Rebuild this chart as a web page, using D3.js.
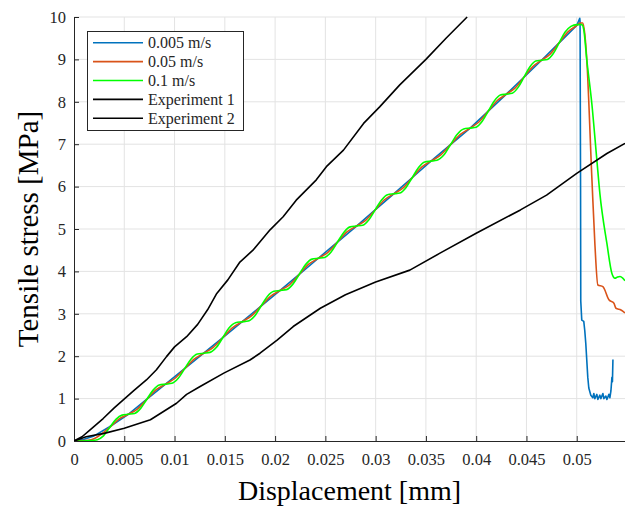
<!DOCTYPE html>
<html>
<head>
<meta charset="utf-8">
<script src="https://cdn.jsdelivr.net/npm/d3@7"></script>
<style>
  body { margin: 0; background: #fff; }
  svg text { font-family: "Liberation Serif", "Times New Roman", serif; fill: #262626; }
</style>
</head>
<body>
<div class="main"></div>
<script>
// series names (legend order) and colours
var seriesNames = ['0.005 m/s', '0.05 m/s', '0.1 m/s', 'Experiment 1', 'Experiment 2'];
var seriesColors = ['#0072BD', '#D95319', '#00FF00', '#000000', '#000000'];

// tick values and labels
var xTicks = [0, 0.005, 0.01, 0.015, 0.02, 0.025, 0.03, 0.035, 0.04, 0.045, 0.05];
var xTickLabels = ['0', '0.005', '0.01', '0.015', '0.02', '0.025', '0.03', '0.035', '0.04', '0.045', '0.05'];
var yTicks = [0, 1, 2, 3, 4, 5, 6, 7, 8, 9, 10];
var yTickLabels = ['0', '1', '2', '3', '4', '5', '6', '7', '8', '9', '10'];

// 0.005 m/s (displacement mm, stress MPa)
var blueX = [0, 0.001, 0.002, 0.0035, 0.0054, 0.00725, 0.0091, 0.0110, 0.0129, 0.0148, 0.0167, 0.0186, 0.0205, 0.0224,
    0.0243, 0.0262, 0.0281, 0.02995, 0.0318, 0.03365, 0.0355, 0.03745, 0.0394, 0.0412, 0.0430, 0.04475, 0.0465, 0.04825,
    0.0500, 0.0503,
    0.05033, 0.05038, 0.0504, 0.0505, 0.0507, 0.0508, 0.0509, 0.0511, 0.0512, 0.0514, 0.0516, 0.0517, 0.0518, 0.052,
    0.0521, 0.0523, 0.0524, 0.0526, 0.0527, 0.0529, 0.053, 0.0532, 0.0533, 0.0534, 0.0535, 0.05355, 0.0536];
var blueY = [0, 0.04, 0.12, 0.33, 0.63, 0.985, 1.34, 1.705, 2.07, 2.44, 2.81, 3.18, 3.55, 3.93,
    4.31, 4.69, 5.07, 5.45, 5.83, 6.215, 6.6, 6.99, 7.38, 7.78, 8.18, 8.58, 8.98, 9.39,
    9.8, 9.97,
    9.9, 6.0, 3.3, 2.85, 2.82, 2.6, 2.3, 1.5, 1.25, 1.08, 1.02, 1.12, 1.0, 1.1,
    0.98, 1.08, 1.0, 1.12, 1.0, 1.06, 0.98, 1.1, 1.02, 1.18, 1.5, 1.4, 1.92];

// 0.05 m/s
var orangeX = [0, 0.0008, 0.0017, 0.0026, 0.00355, 0.0045, 0.0054,
    0.00633, 0.00725, 0.00818, 0.0091, 0.01005, 0.0110, 0.01195, 0.0129, 0.01385, 0.0148, 0.01575, 0.0167,
    0.01765, 0.0186, 0.01955, 0.0205, 0.02145, 0.0224, 0.02335, 0.0243, 0.02525, 0.0262, 0.02715, 0.0281,
    0.02903, 0.02995, 0.03088, 0.0318, 0.03273, 0.03365, 0.03458, 0.0355, 0.03648, 0.03745, 0.03843, 0.0394,
    0.0403, 0.0412, 0.0421, 0.0430, 0.04388, 0.04475, 0.04563, 0.0465, 0.04738, 0.04825, 0.04913, 0.0500,
    0.0503, 0.0506, 0.0508, 0.051, 0.0515, 0.0518, 0.0521, 0.0526, 0.0532, 0.0537, 0.0539, 0.0544, 0.0548];
var orangeY = [0, 0.01, 0.03, 0.14, 0.32, 0.52, 0.63,
    0.76, 0.985, 1.21, 1.34, 1.48, 1.705, 1.93, 2.07, 2.21, 2.44, 2.67, 2.81,
    2.95, 3.18, 3.41, 3.55, 3.69, 3.93, 4.17, 4.31, 4.45, 4.69, 4.93, 5.07,
    5.21, 5.45, 5.69, 5.83, 5.97, 6.215, 6.46, 6.6, 6.75, 6.99, 7.23, 7.38,
    7.53, 7.78, 8.03, 8.18, 8.33, 8.58, 8.83, 8.98, 9.13, 9.39, 9.65, 9.8,
    9.86, 9.86, 9.6, 8.99, 6.23, 4.67, 3.68, 3.64, 3.33, 3.25, 3.13, 3.09, 3.02];

// 0.1 m/s
var greenX = [0, 0.0008, 0.0017, 0.00232, 0.00293, 0.00355, 0.00417, 0.00478, 0.0054,
    0.00602, 0.00663, 0.00725, 0.00787, 0.00848, 0.0091,
    0.00973, 0.01037, 0.0110, 0.01163, 0.01227, 0.0129,
    0.01353, 0.01417, 0.0148, 0.01543, 0.01607, 0.0167,
    0.01733, 0.01797, 0.0186, 0.01923, 0.01987, 0.0205,
    0.02113, 0.02177, 0.0224, 0.02303, 0.02367, 0.0243,
    0.02493, 0.02557, 0.0262, 0.02683, 0.02747, 0.0281,
    0.02872, 0.02933, 0.02995, 0.03057, 0.03118, 0.0318,
    0.03242, 0.03303, 0.03365, 0.03427, 0.03488, 0.0355,
    0.0361, 0.0368, 0.03745, 0.0381, 0.03875, 0.0394,
    0.0400, 0.0406, 0.0412, 0.0418, 0.0424, 0.0430,
    0.04358, 0.04417, 0.04475, 0.04533, 0.04592, 0.0465,
    0.04708, 0.04767, 0.04825, 0.04883, 0.04942, 0.0500,
    0.0505, 0.0507, 0.051, 0.0515, 0.052, 0.0523, 0.053, 0.0535, 0.0538, 0.054, 0.0543, 0.0548];
var greenY = [0, 0.0, 0.01, 0.03, 0.12, 0.32, 0.51, 0.61, 0.63,
    0.65, 0.77, 0.985, 1.20, 1.32, 1.34,
    1.36, 1.48, 1.705, 1.93, 2.05, 2.07,
    2.09, 2.21, 2.44, 2.67, 2.79, 2.81,
    2.83, 2.95, 3.18, 3.41, 3.53, 3.55,
    3.57, 3.70, 3.93, 4.16, 4.29, 4.31,
    4.33, 4.46, 4.69, 4.92, 5.05, 5.07,
    5.09, 5.22, 5.45, 5.68, 5.81, 5.83,
    5.85, 5.98, 6.215, 6.45, 6.58, 6.6,
    6.62, 6.75, 6.99, 7.23, 7.36, 7.38,
    7.40, 7.54, 7.78, 8.02, 8.16, 8.18,
    8.20, 8.34, 8.58, 8.82, 8.96, 8.98,
    9.0, 9.14, 9.39, 9.64, 9.78, 9.82,
    9.82, 9.7, 8.99, 7.96, 6.63, 5.84, 4.66, 3.95, 3.84, 3.86, 3.88, 3.78];

// Experiment 1
var exp1X = [0, 0.0008, 0.0016, 0.0029, 0.004, 0.0049, 0.006, 0.0072, 0.0082, 0.0092, 0.01, 0.0112, 0.0123,
    0.0133, 0.0142, 0.0153, 0.0165, 0.0178, 0.0195, 0.0208, 0.0221, 0.0241, 0.0251, 0.0268, 0.0288, 0.0304,
    0.0324, 0.035, 0.037, 0.0391];
var exp1Y = [0, 0.1, 0.26, 0.53, 0.78, 0.97, 1.2, 1.44, 1.68, 1.99, 2.22, 2.46, 2.75,
    3.1, 3.48, 3.8, 4.22, 4.5, 4.98, 5.29, 5.68, 6.16, 6.47, 6.86, 7.49, 7.88,
    8.4, 9.0, 9.5, 10.0];

// Experiment 2
var exp2X = [0, 0.0012, 0.003, 0.005, 0.0076, 0.0102, 0.0112, 0.0125, 0.0149, 0.0175, 0.0185, 0.0202, 0.0218,
    0.0245, 0.027, 0.03, 0.0334, 0.0364, 0.04, 0.0444, 0.047, 0.05, 0.053, 0.0548];
var exp2Y = [0, 0.1, 0.18, 0.3, 0.5, 0.89, 1.1, 1.28, 1.6, 1.91, 2.07, 2.38, 2.7,
    3.13, 3.45, 3.75, 4.03, 4.43, 4.9, 5.45, 5.8, 6.31, 6.78, 7.02];

var W = 625, H = 507;
var pLeft = 74, pRight = 625, pTop = 17, pBottom = 441;
var serif = '"Liberation Serif", "Times New Roman", serif';

var svg = d3.select('.main').append('svg')
    .attr('width', W).attr('height', H);

var x = d3.scaleLinear().domain([0, 0.0548]).range([pLeft, pRight]);
var y = d3.scaleLinear().domain([0, 10]).range([pBottom, pTop]);

// grid
svg.append('g').selectAll('line').data(xTicks.slice(1)).enter().append('line')
    .attr('x1', d => x(d)).attr('x2', d => x(d))
    .attr('y1', pTop).attr('y2', pBottom)
    .attr('stroke', '#e3e3e3').attr('stroke-width', 1);
svg.append('g').selectAll('line').data(yTicks.slice(1)).enter().append('line')
    .attr('x1', pLeft).attr('x2', pRight)
    .attr('y1', d => y(d)).attr('y2', d => y(d))
    .attr('stroke', '#e3e3e3').attr('stroke-width', 1);

// axes (ticks pointing inward)
var xAxis = svg.append('g')
    .attr('transform', 'translate(0,' + pBottom + ')')
    .call(d3.axisBottom(x).tickValues(xTicks).tickSizeInner(-5).tickSizeOuter(0)
        .tickPadding(12).tickFormat((d, i) => xTickLabels[i]));
var yAxis = svg.append('g')
    .attr('transform', 'translate(' + pLeft + ',0)')
    .call(d3.axisLeft(y).tickValues(yTicks).tickSizeInner(-5).tickSizeOuter(0)
        .tickPadding(8).tickFormat((d, i) => yTickLabels[i]));

[xAxis, yAxis].forEach(function(a) {
    a.attr('font-family', serif);
    a.select('.domain').attr('stroke', '#262626').attr('stroke-width', 1);
    a.selectAll('.tick line').attr('stroke', '#262626');
    a.selectAll('.tick text').attr('font-size', 16.5)
        .attr('font-family', serif).attr('fill', '#262626');
});

// clip
svg.append('clipPath').attr('id', 'clip').append('rect')
    .attr('x', pLeft).attr('y', pTop - 2).attr('width', pRight - pLeft).attr('height', pBottom - pTop + 2);

var seriesData = [
    [blueX, blueY, d3.curveLinear],
    [orangeX, orangeY, d3.curveMonotoneX],
    [greenX, greenY, d3.curveMonotoneX],
    [exp1X, exp1Y, d3.curveLinear],
    [exp2X, exp2Y, d3.curveLinear]
];

var plot = svg.append('g').attr('clip-path', 'url(#clip)');
seriesData.forEach(function(s, k) {
    var pts = s[0].map((v, i) => [v, s[1][i]]);
    var line = d3.line().x(d => x(d[0])).y(d => y(d[1])).curve(s[2]);
    plot.append('path').datum(pts)
        .attr('d', line)
        .attr('fill', 'none')
        .attr('stroke', seriesColors[k])
        .attr('stroke-width', 1.6)
        .attr('stroke-linejoin', 'round');
});

// axis labels
svg.append('text')
    .attr('x', (pLeft + pRight) / 2).attr('y', 500)
    .attr('text-anchor', 'middle').attr('font-size', 28)
    .attr('font-family', serif).style('fill', '#000')
    .text('Displacement [mm]');
svg.append('text')
    .attr('transform', 'translate(38,' + 229 + ') rotate(-90)')
    .attr('text-anchor', 'middle').attr('font-size', 29)
    .attr('font-family', serif).style('fill', '#000')
    .text('Tensile stress [MPa]');

// legend
var lg = svg.append('g');
lg.append('rect')
    .attr('x', 87.5).attr('y', 31.5).attr('width', 156).attr('height', 99)
    .attr('fill', '#fff').attr('stroke', '#262626').attr('stroke-width', 1);
seriesNames.forEach(function(name, i) {
    var yy = 42.7 + i * 18.9;
    lg.append('line')
        .attr('x1', 93).attr('x2', 143).attr('y1', yy).attr('y2', yy)
        .attr('stroke', seriesColors[i]).attr('stroke-width', 1.6);
    lg.append('text')
        .attr('x', 148).attr('y', yy + 5.5)
        .attr('font-size', 16).attr('font-family', serif)
        .text(name);
});
</script>
</body>
</html>
